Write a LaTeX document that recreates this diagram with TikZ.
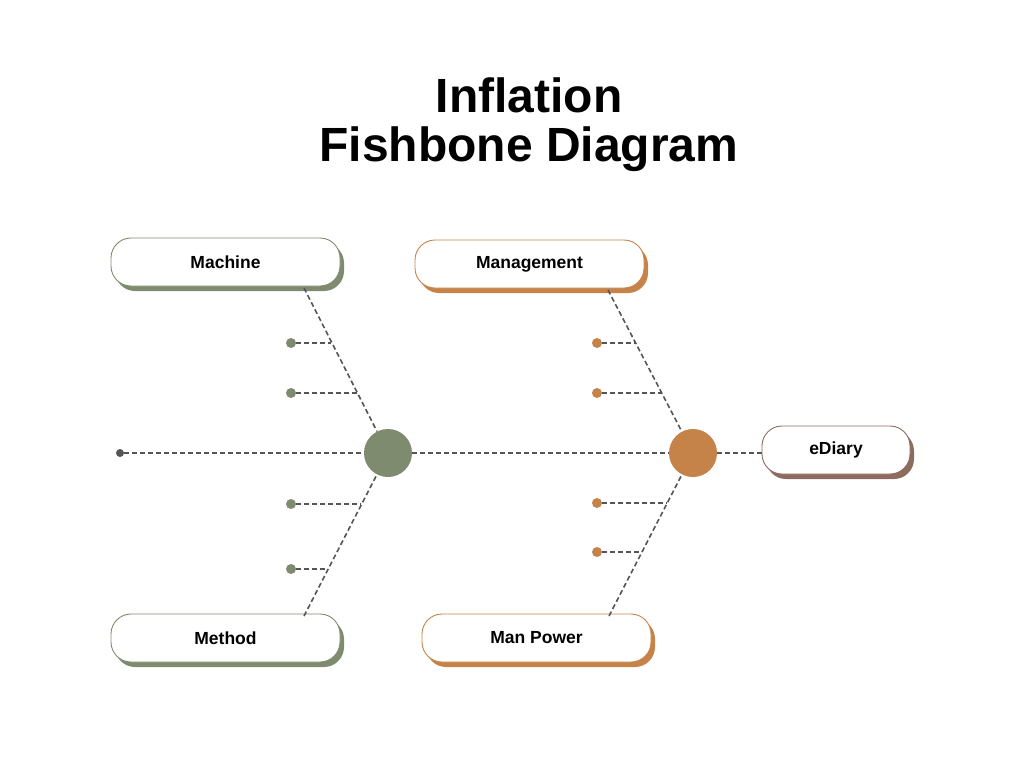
\documentclass[tikz,border=0pt]{standalone}
\usepackage{fontspec}
\setmainfont{Liberation Sans}
\usetikzlibrary{calc,shadows}
\definecolor{sage}{HTML}{7F8B6F}
\definecolor{copper}{HTML}{C5834A}
\definecolor{umber}{HTML}{8D6B5F}
\definecolor{bonegray}{HTML}{555555}
\tikzset{
  catbox/.style={draw=#1, fill=white, line width=0.9pt, rounded corners=20pt,
    minimum width=229pt, minimum height=48pt, inner sep=0pt,
    font=\bfseries\fontsize{17.5}{20}\selectfont,
    general shadow={fill=#1, shadow xshift=4pt, shadow yshift=-5pt}},
  hub/.style={circle, fill=#1, minimum size=48pt, inner sep=0pt},
  ribdot/.style={circle, fill=#1, minimum size=10pt, inner sep=0pt},
  bone/.style={draw=bonegray, line width=1.6pt, dash pattern=on 5pt off 3pt},
  titletext/.style={font=\bfseries\fontsize{48}{54}\selectfont}
}
\begin{document}
\begin{tikzpicture}[x=1pt,y=-1pt]
\useasboundingbox (0,0) rectangle (1024,768);

% title
\node[titletext] (t1) at (529,95) {Inflation};
\node[titletext] (t2) at (529,149) {Fishbone Diagram};

% category boxes and the effect box
\node[catbox=sage] (machine) at (225.5,262) {Machine};
\node[catbox=copper] (management) at (529.5,264) {Management};
\node[catbox=sage] (method) at (225.5,638) {Method};
\node[catbox=copper] (manpower) at (536.5,638) {Man Power};
\node[catbox=umber, minimum width=148pt] (ediary) at (836,450) {eDiary};

% spine
\node[circle, fill=bonegray, minimum size=8pt, inner sep=0pt] (tail) at (120,453) {};
\node[hub=sage] (hubA) at (388,453) {};
\node[hub=copper] (hubB) at (693,453) {};
\draw[bone] (tail) -- (hubA);
\draw[bone] (hubA) -- (hubB);
\draw[bone] (hubB) -- (hubB -| ediary.west);

% bone ends on the boxes
\coordinate (mA) at (304,288);
\coordinate (mB) at (304,616);
\coordinate (mC) at (608,290);
\coordinate (mD) at (609,616);
\draw[bone] (mA) -- (hubA);
\draw[bone] (mB) -- (hubA);
\draw[bone] (mC) -- (hubB);
\draw[bone] (mD) -- (hubB);

% ribs
\node[ribdot=sage] (r1) at (291,343) {};
\node[ribdot=sage] (r2) at (291,393) {};
\node[ribdot=sage] (r3) at (291,504) {};
\node[ribdot=sage] (r4) at (291,569) {};
\node[ribdot=copper] (r5) at (597,343) {};
\node[ribdot=copper] (r6) at (597,393) {};
\node[ribdot=copper] (r7) at (597,503) {};
\node[ribdot=copper] (r8) at (597,552) {};
\coordinate (j1) at (331,343);
\coordinate (j2) at (357,393);
\coordinate (j3) at (361,504);
\coordinate (j4) at (327,569);
\coordinate (j5) at (635,343);
\coordinate (j6) at (661,393);
\coordinate (j7) at (667,503);
\coordinate (j8) at (641,552);
\foreach \i in {1,...,8} {\draw[bone] (r\i) -- (j\i);}
\end{tikzpicture}
\end{document}
